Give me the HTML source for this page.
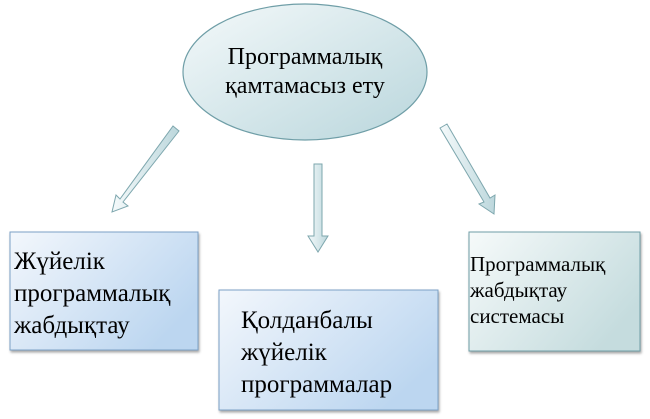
<!DOCTYPE html>
<html><head><meta charset="utf-8"><style>
body{margin:0;width:650px;height:419px;background:#fff;overflow:hidden;position:relative}
.t{position:absolute;color:#000;white-space:nowrap;font-family:"Liberation Serif","Noto Serif CJK SC","DejaVu Serif",serif}
</style></head><body>
<svg width="650" height="419" style="position:absolute;left:0;top:0">
<defs>
<linearGradient id="eg" x1="0" y1="0" x2="1" y2="1"><stop offset="0" stop-color="#f4f9fa"/><stop offset="1" stop-color="#b9d6dc"/></linearGradient>
<linearGradient id="bg" x1="0" y1="0" x2="1" y2="0.6"><stop offset="0" stop-color="#f3f7fc"/><stop offset="1" stop-color="#bcd6f0"/></linearGradient>
<linearGradient id="rg" x1="0" y1="0" x2="1" y2="0.6"><stop offset="0" stop-color="#f6fafa"/><stop offset="1" stop-color="#c5dcde"/></linearGradient>
<linearGradient id="ag" x1="0" y1="0" x2="1" y2="0"><stop offset="0" stop-color="#f5fafb"/><stop offset="1" stop-color="#bcd7dc"/></linearGradient>
<filter id="sh"><feDropShadow dx="1" dy="2" stdDeviation="1.2" flood-color="#000" flood-opacity="0.35"/></filter>
</defs>
<ellipse cx="305" cy="72" rx="122" ry="68" fill="url(#eg)" stroke="#6f9ea7" stroke-width="1.2"/>
<polygon points="173,126 179,131 123,202 128,206 112,212 116,195 120,199" fill="url(#ag)" stroke="#7ea7ae"/>
<polygon points="314,164 322,164 322,236 328,236 318,252 308,236 314,236" fill="url(#ag)" stroke="#7ea7ae"/>
<polygon points="440,128 447,124 490,198 495,195 494,214 479,204 484,202" fill="url(#ag)" stroke="#7ea7ae"/>
<rect x="10" y="232" width="188" height="118" fill="url(#bg)" stroke="#7ba1c6" filter="url(#sh)"/>
<rect x="219" y="290" width="219" height="120" fill="url(#bg)" stroke="#7ba1c6" filter="url(#sh)"/>
<rect x="469" y="232" width="171" height="119" fill="url(#rg)" stroke="#6f9ea7" filter="url(#sh)"/>
</svg>
<div class="t" style="left:222px;top:43px;font-size:24px;line-height:29px;text-align:center;width:166px">Программалық<br>қамтамасыз ету</div>
<div class="t" style="left:14px;top:246px;font-size:25px;line-height:32px">Жүйелік<br>программалық<br>жабдықтау</div>
<div class="t" style="left:241px;top:305px;font-size:25px;line-height:32px">Қолданбалы<br>жүйелік<br>программалар</div>
<div class="t" style="left:470px;top:251px;font-size:21px;line-height:26px">Программалық<br>жабдықтау<br>системасы</div>
</body></html>
